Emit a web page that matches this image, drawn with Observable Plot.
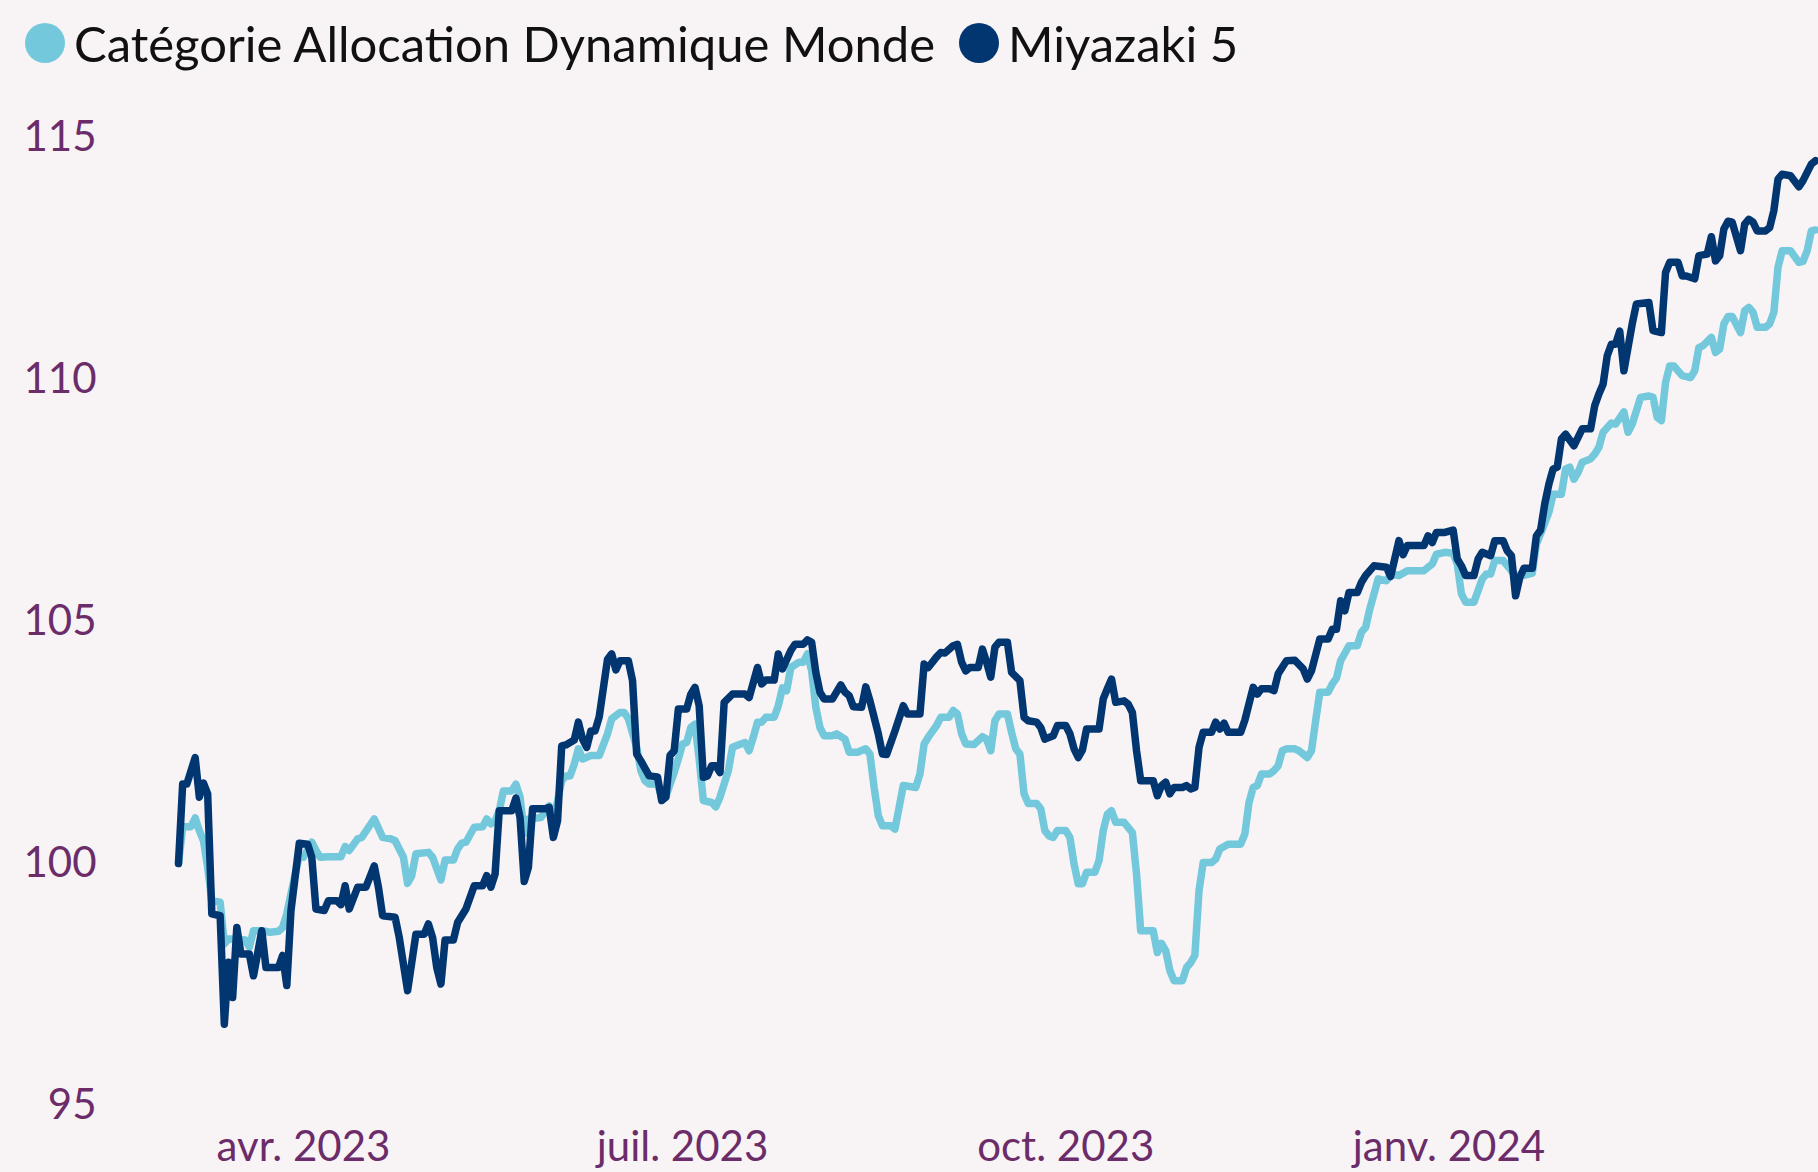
<!DOCTYPE html>
<html>
<head>
<meta charset="utf-8">
<script src="https://cdn.jsdelivr.net/npm/d3@7"></script>
<script src="https://cdn.jsdelivr.net/npm/@observablehq/plot@0.6"></script>
<style>
  html, body { margin: 0; padding: 0; background: #f8f3f5; }
  body { width: 1818px; height: 1172px; overflow: hidden; font-family: "Lato", sans-serif; }
  #legend { height: 90px; display: flex; align-items: flex-start; padding-left: 25px; padding-top: 13px; box-sizing: border-box; }
  .item { display: flex; align-items: center; height: 60px; margin-right: 24px; font-size: 49px; color: #111; white-space: nowrap; }
  .sw { width: 40px; height: 40px; border-radius: 50%; margin-right: 9px; flex: none; }
  #chart svg { display: block; }
</style>
</head>
<body>
<div id="legend"></div>
<div id="chart"></div>
<script>
// Series names and colours
const seriesNames = ["Catégorie Allocation Dynamique Monde", "Miyazaki 5"];
const seriesColors = ["#73c8dc", "#023671"];

// Day index = days since 2023-03-01 (daily values)
const catDays = [1,2,4,5,6,7,8,9,11,12,13,15,17,18,19,21,23,25,26,27,29,30,31,33,34,35,37,40,41,42,44,45,48,50,52,53,55,56,57,58,61,62,64,65,67,68,69,70,72,74,75,76,77,78,79,81,82,83,84,85,88,90,91,93,94,95,96,97,98,100,102,104,105,107,108,109,111,112,113,114,116,117,118,119,120,121,122,123,124,125,126,127,129,130,131,133,134,136,137,138,139,140,141,142,144,145,146,147,148,150,151,152,153,154,155,156,158,159,161,162,164,166,167,168,169,170,172,173,174,175,178,179,180,181,183,184,186,187,188,189,190,192,194,195,196,197,198,200,201,202,203,204,205,207,208,209,210,211,212,214,215,216,217,218,219,221,222,223,224,225,226,228,230,231,232,235,236,237,238,239,240,242,243,244,245,246,247,249,250,251,253,256,257,258,259,260,261,263,264,265,266,267,269,270,272,273,274,275,277,278,279,280,282,284,285,286,287,289,291,292,294,296,300,302,303,305,307,308,309,310,312,314,315,316,317,319,321,322,324,326,327,328,330,331,333,334,335,336,337,338,340,341,342,343,345,346,348,349,350,352,354,355,356,357,358,359,360,362,364,365,366,367,369,370,371,372,373,374,376,377,378,379,380,382,383,384,385,386,388,390,391,392,393,394];
const catValues = [100.0,100.76,100.76,100.94,100.68,100.47,99.92,99.23,99.2,98.34,98.44,98.44,98.42,98.27,98.61,98.61,98.58,98.6,98.68,98.96,99.78,100.16,100.13,100.44,100.27,100.13,100.14,100.14,100.35,100.27,100.51,100.54,100.92,100.54,100.51,100.47,100.13,99.59,99.75,100.2,100.23,100.13,99.66,100.07,100.07,100.3,100.42,100.44,100.75,100.76,100.92,100.82,100.88,101.09,101.5,101.5,101.64,101.37,100.62,100.92,100.95,101.19,100.88,101.71,101.81,101.81,102.05,102.37,102.16,102.23,102.23,102.68,102.99,103.12,103.12,102.99,102.4,101.92,101.71,101.64,101.64,101.38,101.37,101.64,101.88,102.16,102.47,102.5,102.81,102.88,102.16,101.3,101.26,101.17,101.37,101.92,102.4,102.47,102.5,102.33,102.61,102.92,102.92,103.02,103.02,103.26,103.63,103.57,104.05,104.16,104.16,104.33,103.98,103.23,102.81,102.64,102.64,102.68,102.57,102.3,102.3,102.37,102.26,101.57,100.99,100.78,100.78,100.71,101.16,101.61,101.57,101.85,102.47,102.61,102.85,103.02,103.02,103.16,103.09,102.68,102.47,102.46,102.62,102.57,102.33,102.95,103.09,103.09,102.71,102.37,102.26,101.44,101.24,101.24,101.13,100.68,100.57,100.54,100.68,100.68,100.54,99.99,99.58,99.58,99.82,99.82,100.06,100.68,101.02,101.09,100.85,100.85,100.64,99.78,98.61,98.61,98.16,98.35,98.2,97.79,97.58,97.58,97.85,97.95,98.1,99.44,100.02,100.02,100.09,100.3,100.4,100.4,100.61,101.26,101.57,101.61,101.85,101.85,101.92,102.02,102.33,102.37,102.37,102.33,102.19,102.33,102.95,103.54,103.54,103.71,103.83,104.19,104.5,104.5,104.78,104.88,105.26,105.88,105.84,105.98,105.95,106.05,106.05,106.19,106.39,106.43,106.41,106.19,105.57,105.4,105.4,105.88,105.98,105.98,106.26,106.26,106.05,105.95,105.95,106.0,106.6,106.81,107.26,107.63,107.63,108.15,108.19,107.94,108.08,108.29,108.36,108.46,108.6,108.91,109.1,109.08,109.33,108.91,109.08,109.63,109.66,109.63,109.22,109.15,109.94,110.28,110.28,110.08,110.04,110.18,110.66,110.7,110.87,110.56,110.63,111.15,111.3,111.3,110.97,111.42,111.49,111.39,111.08,111.08,111.15,111.39,112.32,112.66,112.66,112.42,112.44,112.66,113.07,113.09];

const miyDays = [1,2,3,5,6,7,8,9,11,12,13,14,15,16,18,19,21,22,25,26,27,28,30,32,33,34,36,37,39,40,41,42,44,46,48,49,50,53,54,56,58,60,61,62,63,64,65,67,68,69,70,72,74,75,76,77,78,81,82,83,84,85,86,89,90,91,92,93,94,96,97,98,99,100,101,102,104,105,106,107,109,110,111,112,114,116,117,118,119,120,121,123,124,125,126,127,128,129,130,131,132,134,137,138,140,141,142,144,145,146,148,149,151,152,153,154,155,156,158,160,161,162,163,165,166,167,169,170,171,173,175,176,179,180,181,183,184,185,187,188,189,190,191,193,194,195,196,197,198,200,201,203,204,205,207,208,209,211,212,214,215,216,217,218,219,222,223,224,225,226,228,229,230,231,232,235,236,237,238,239,240,242,243,244,245,246,247,249,250,251,252,253,256,257,258,259,260,261,263,264,265,267,269,271,272,273,275,277,278,279,280,281,282,284,285,286,288,291,292,294,295,296,300,301,302,303,305,307,308,309,310,312,313,314,316,317,319,320,321,322,323,324,326,327,328,329,330,331,332,333,334,336,338,340,341,342,343,344,345,346,347,348,350,351,354,355,357,358,359,361,362,363,365,366,368,369,370,371,372,373,374,376,377,378,379,380,382,383,384,385,386,388,390,391,393,394];
const miyValues = [100.0,101.64,101.64,102.19,101.37,101.66,101.44,98.96,98.92,96.68,97.96,97.23,98.68,98.13,98.13,97.68,98.61,97.85,97.85,98.1,97.48,99.03,100.42,100.4,100.13,99.06,99.03,99.23,99.23,99.15,99.54,99.06,99.51,99.51,99.95,99.51,98.92,98.89,98.47,97.37,98.54,98.54,98.75,98.47,97.85,97.51,98.42,98.42,98.78,98.92,99.06,99.54,99.54,99.75,99.51,99.78,101.09,101.09,101.35,100.95,99.63,99.92,101.13,101.13,101.16,100.54,100.88,102.43,102.45,102.55,102.92,102.57,102.4,102.74,102.74,103.03,104.22,104.33,104.0,104.19,104.19,103.78,102.26,102.12,101.81,101.79,101.3,101.37,102.23,102.33,103.19,103.19,103.5,103.64,103.26,101.78,101.81,102.02,102.02,101.88,103.33,103.5,103.5,103.43,104.05,103.71,103.79,103.79,104.33,104.02,104.4,104.53,104.53,104.62,104.57,103.95,103.54,103.4,103.4,103.69,103.54,103.47,103.24,103.23,103.65,103.36,102.68,102.26,102.25,102.74,103.26,103.09,103.09,104.12,104.05,104.27,104.36,104.35,104.5,104.53,104.16,103.98,104.05,104.05,104.43,104.16,103.85,104.47,104.57,104.57,103.95,103.78,103.02,102.95,102.92,102.81,102.57,102.64,102.85,102.85,102.68,102.37,102.19,102.34,102.78,102.78,103.4,103.61,103.81,103.33,103.36,103.29,103.12,102.33,101.71,101.71,101.4,101.61,101.68,101.44,101.57,101.57,101.61,101.54,101.57,102.4,102.71,102.71,102.92,102.78,102.9,102.71,102.71,102.96,103.3,103.64,103.5,103.61,103.61,103.57,103.92,104.19,104.2,104.02,103.81,103.98,104.64,104.64,104.84,104.84,105.43,105.22,105.6,105.6,105.81,105.95,106.15,106.12,105.93,106.67,106.38,106.57,106.57,106.77,106.63,106.84,106.84,106.89,106.29,106.15,105.95,105.95,106.29,106.43,106.36,106.67,106.67,106.46,106.36,105.53,105.91,106.1,106.1,106.77,106.89,107.43,107.84,108.15,108.19,108.77,108.87,108.63,108.98,108.98,109.46,109.7,109.9,110.49,110.73,110.73,111.0,110.18,111.15,111.56,111.59,111.01,110.97,112.21,112.42,112.42,112.14,112.14,112.08,112.56,112.59,112.95,112.45,112.56,113.11,113.27,113.25,112.66,113.21,113.31,113.25,113.07,113.07,113.14,113.49,114.14,114.24,114.21,113.98,114.11,114.45,114.52];

// Axis ticks
const xTickDates = ["2023-04-01", "2023-07-01", "2023-10-01", "2024-01-01"];
const xTickLabels = ["avr. 2023", "juil. 2023", "oct. 2023", "janv. 2024"];
const yTicks = [95, 100, 105, 110, 115];

const origin = new Date(Date.UTC(2023, 2, 1));
const toDate = (n) => d3.utcDay.offset(origin, n);

const rows = [];
catDays.forEach((d, i) => rows.push({series: seriesNames[0], date: toDate(d), value: catValues[i]}));
miyDays.forEach((d, i) => rows.push({series: seriesNames[1], date: toDate(d), value: miyValues[i]}));

const tickDates = xTickDates.map(s => new Date(s + "T00:00:00Z"));
const labelOf = new Map(tickDates.map((d, i) => [+d, xTickLabels[i]]));

// Legend
const legend = document.getElementById("legend");
seriesNames.forEach((name, i) => {
  const it = document.createElement("div");
  it.className = "item";
  const sw = document.createElement("span");
  sw.className = "sw";
  sw.style.background = seriesColors[i];
  it.appendChild(sw);
  it.appendChild(document.createTextNode(name));
  legend.appendChild(it);
});

const chart = Plot.plot({
  width: 1818,
  height: 1082,
  marginLeft: 178,
  marginRight: 3,
  marginTop: 47,
  marginBottom: 67,
  style: {background: "transparent", fontFamily: "Lato, sans-serif", fontSize: "42px", color: "#6b2c69"},
  x: {type: "utc", domain: [toDate(1), toDate(394)], ticks: tickDates, tickFormat: d => labelOf.get(+d), tickSize: 0, tickPadding: 26, label: null},
  y: {domain: [95, 115], ticks: yTicks, tickSize: 0, tickPadding: 82, label: null},
  color: {domain: seriesNames, range: seriesColors},
  marks: [
    Plot.lineY(rows, {x: "date", y: "value", z: "series", stroke: "series", strokeWidth: 7.5, strokeLinejoin: "round", curve: "linear"})
  ]
});
document.getElementById("chart").appendChild(chart);
</script>
</body>
</html>
